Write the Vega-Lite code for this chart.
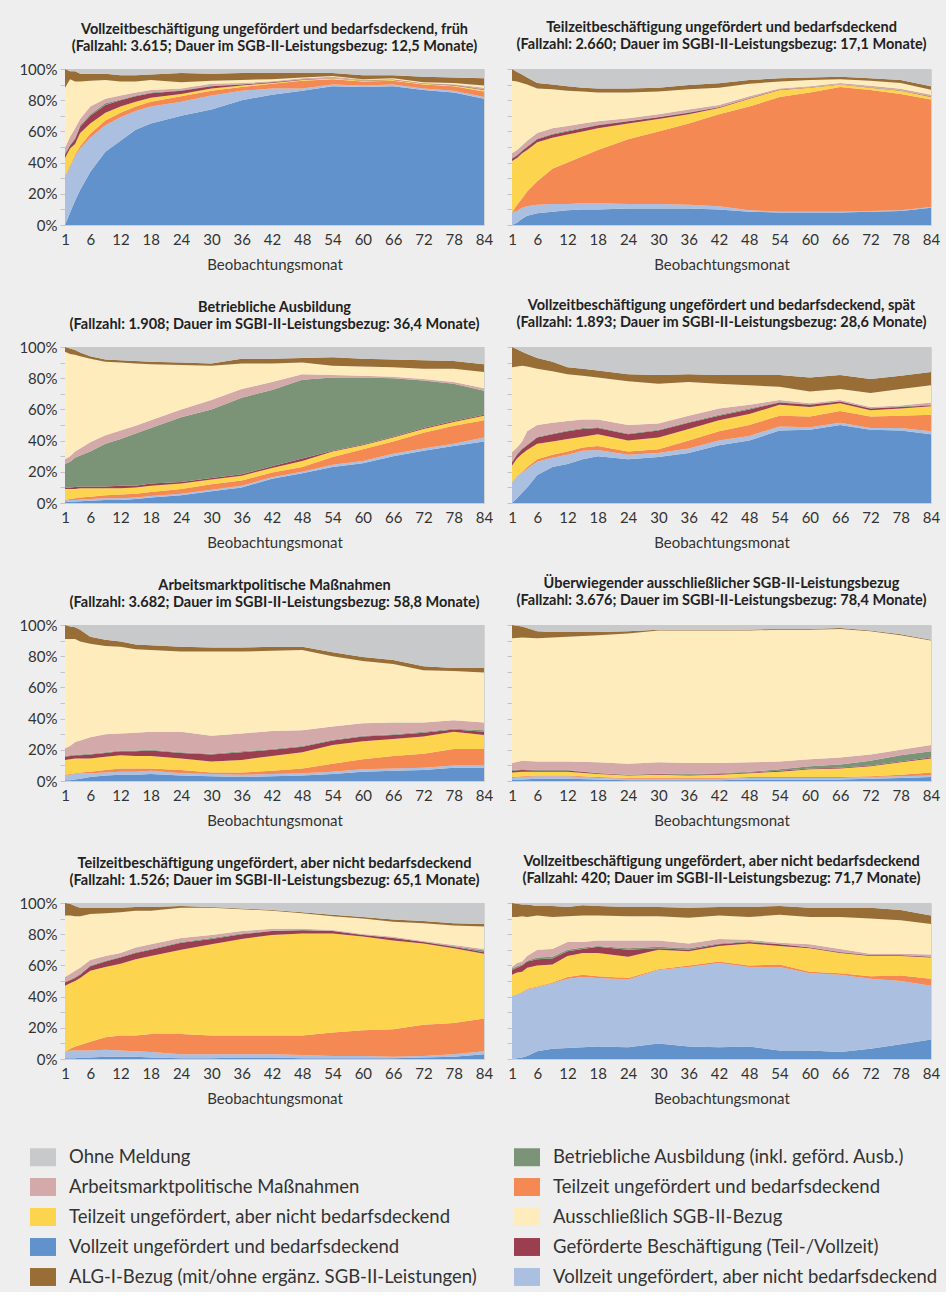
{
"$schema": "https://vega.github.io/schema/vega-lite/v6.json",
"background": "#eeeeee",
"padding": {"left": 18, "top": 19, "right": 5, "bottom": 5},
"datasets": {
"cats": [
{"key": "vb", "ord": 0, "label": "Vollzeit ungefördert und bedarfsdeckend"},
{"key": "vn", "ord": 1, "label": "Vollzeit ungefördert, aber nicht bedarfsdeckend"},
{"key": "tb", "ord": 2, "label": "Teilzeit ungefördert und bedarfsdeckend"},
{"key": "tn", "ord": 3, "label": "Teilzeit ungefördert, aber nicht bedarfsdeckend"},
{"key": "gb", "ord": 4, "label": "Geförderte Beschäftigung (Teil-/Vollzeit)"},
{"key": "ba", "ord": 5, "label": "Betriebliche Ausbildung (inkl. geförd. Ausb.)"},
{"key": "am", "ord": 6, "label": "Arbeitsmarktpolitische Maßnahmen"},
{"key": "sg", "ord": 7, "label": "Ausschließlich SGB-II-Bezug"},
{"key": "alg", "ord": 8, "label": "ALG-I-Bezug (mit/ohne ergänz. SGB-II-Leistungen)"},
{"key": "om", "ord": 9, "label": "Ohne Meldung"}
],
"d": [
{"p":1,"m":1,"vb":0,"vn":31,"tb":0.5,"tn":11.5,"gb":2,"ba":1,"am":3.5,"sg":38.5,"alg":12,"om":0},
{"p":1,"m":2,"vb":8,"vn":29,"tb":1,"tn":11,"gb":2,"ba":0.5,"am":5,"sg":37,"alg":5,"om":1.5},
{"p":1,"m":3,"vb":15.5,"vn":28.5,"tb":1,"tn":7,"gb":3,"ba":1,"am":6,"sg":30,"alg":6.5,"om":1.5},
{"p":1,"m":4,"vb":22.5,"vn":26.5,"tb":1.5,"tn":8.5,"gb":4,"ba":1,"am":4,"sg":24,"alg":5,"om":3},
{"p":1,"m":6,"vb":34,"vn":22,"tb":2.5,"tn":6.5,"gb":5,"ba":1,"am":5,"sg":16.5,"alg":4.5,"om":3},
{"p":1,"m":9,"vb":47,"vn":17,"tb":3,"tn":5,"gb":5,"ba":1,"am":3,"sg":12,"alg":4,"om":3},
{"p":1,"m":12,"vb":54,"vn":15,"tb":3,"tn":4,"gb":4,"ba":0.5,"am":2.5,"sg":9,"alg":4,"om":4},
{"p":1,"m":15,"vb":61,"vn":12,"tb":3,"tn":3,"gb":3.5,"ba":0.5,"am":2,"sg":7,"alg":4,"om":4},
{"p":1,"m":18,"vb":65,"vn":11,"tb":3,"tn":2.5,"gb":3,"ba":0.5,"am":1.5,"sg":6.5,"alg":3.5,"om":3.5},
{"p":1,"m":24,"vb":70,"vn":9,"tb":3.5,"tn":1.5,"gb":2,"ba":0.3,"am":1.2,"sg":4,"alg":6,"om":2.5},
{"p":1,"m":30,"vb":74,"vn":9,"tb":3,"tn":1.5,"gb":1.5,"ba":0.2,"am":1.3,"sg":2,"alg":4.5,"om":3},
{"p":1,"m":36,"vb":80,"vn":6,"tb":2.5,"tn":1,"gb":0.5,"ba":0.2,"am":0.8,"sg":2,"alg":4.5,"om":2.5},
{"p":1,"m":42,"vb":83.5,"vn":4,"tb":3,"tn":0.5,"gb":0.5,"ba":0.2,"am":0.5,"sg":1.3,"alg":4,"om":2.5},
{"p":1,"m":48,"vb":86,"vn":1.5,"tb":5,"tn":0.5,"gb":0.3,"ba":0.1,"am":0.6,"sg":0.5,"alg":3,"om":2.5},
{"p":1,"m":54,"vb":89,"vn":1,"tb":3.5,"tn":0.5,"gb":0.2,"ba":0.1,"am":0.7,"sg":0.5,"alg":2,"om":2.5},
{"p":1,"m":60,"vb":88.5,"vn":1,"tb":2.5,"tn":0.5,"gb":0.2,"ba":0.1,"am":0.4,"sg":0.3,"alg":2.5,"om":4},
{"p":1,"m":66,"vb":89,"vn":1,"tb":2.5,"tn":0.5,"gb":0.2,"ba":0.1,"am":0.2,"sg":0.5,"alg":2,"om":4},
{"p":1,"m":72,"vb":86.5,"vn":1,"tb":2.5,"tn":0.5,"gb":0.2,"ba":0.1,"am":0.2,"sg":0.5,"alg":3.5,"om":5},
{"p":1,"m":78,"vb":85,"vn":1,"tb":3,"tn":0.5,"gb":0.3,"ba":0.1,"am":0.4,"sg":0.7,"alg":3.5,"om":5.5},
{"p":1,"m":84,"vb":81,"vn":1,"tb":3.5,"tn":1,"gb":0.3,"ba":0.2,"am":1,"sg":1.5,"alg":4.5,"om":6},
{"p":2,"m":1,"vb":0,"vn":8,"tb":0,"tn":33,"gb":1.5,"ba":0.5,"am":3,"sg":46.5,"alg":7.5,"om":0},
{"p":2,"m":2,"vb":1.5,"vn":7.5,"tb":4,"tn":30,"gb":1.5,"ba":0.5,"am":3,"sg":44,"alg":6,"om":2},
{"p":2,"m":3,"vb":4,"vn":7,"tb":6,"tn":29,"gb":1.5,"ba":0.5,"am":3,"sg":40,"alg":5.5,"om":3.5},
{"p":2,"m":4,"vb":6,"vn":6,"tb":9.5,"tn":26.5,"gb":2,"ba":0.5,"am":3.5,"sg":36,"alg":4.5,"om":5.5},
{"p":2,"m":6,"vb":7.5,"vn":5.5,"tb":15,"tn":25,"gb":2,"ba":0.5,"am":3.5,"sg":28.5,"alg":3.5,"om":9},
{"p":2,"m":9,"vb":8.5,"vn":5,"tb":22.5,"tn":20,"gb":2,"ba":0.5,"am":3.5,"sg":25,"alg":3,"om":10},
{"p":2,"m":12,"vb":9.5,"vn":4,"tb":26.5,"tn":18,"gb":2,"ba":0.5,"am":3,"sg":22.5,"alg":3,"om":11},
{"p":2,"m":15,"vb":10,"vn":4,"tb":30,"tn":16,"gb":2,"ba":0.3,"am":2.7,"sg":20.5,"alg":2.5,"om":12},
{"p":2,"m":18,"vb":10,"vn":4,"tb":34,"tn":14,"gb":2,"ba":0.3,"am":2.2,"sg":18.5,"alg":2.5,"om":12.5},
{"p":2,"m":24,"vb":10.5,"vn":3,"tb":41.5,"tn":10,"gb":1.5,"ba":0.2,"am":1.8,"sg":16.5,"alg":2.5,"om":12.5},
{"p":2,"m":30,"vb":10.5,"vn":3,"tb":46.5,"tn":8,"gb":1,"ba":0.2,"am":1.8,"sg":14.5,"alg":2.5,"om":12},
{"p":2,"m":36,"vb":10.5,"vn":2.5,"tb":52,"tn":6,"gb":1,"ba":0.2,"am":1.8,"sg":13,"alg":2.7,"om":10.3},
{"p":2,"m":42,"vb":10,"vn":2,"tb":59,"tn":4,"gb":0.5,"ba":0.2,"am":1.3,"sg":11,"alg":2.8,"om":9.2},
{"p":2,"m":48,"vb":8.5,"vn":1,"tb":66.5,"tn":5,"gb":0.3,"ba":0.1,"am":1.1,"sg":8,"alg":2.5,"om":7},
{"p":2,"m":54,"vb":8,"vn":0.5,"tb":73.5,"tn":4.5,"gb":0.3,"ba":0.1,"am":0.6,"sg":4.5,"alg":2,"om":6},
{"p":2,"m":60,"vb":8,"vn":0.5,"tb":76.5,"tn":3,"gb":0.2,"ba":0.1,"am":0.7,"sg":4,"alg":1.5,"om":5.5},
{"p":2,"m":66,"vb":8,"vn":0.5,"tb":80,"tn":1.5,"gb":0.2,"ba":0.1,"am":0.7,"sg":2.5,"alg":1.5,"om":5},
{"p":2,"m":72,"vb":8.5,"vn":0.5,"tb":77.5,"tn":1.5,"gb":0.2,"ba":0.1,"am":1,"sg":3.2,"alg":1.5,"om":6},
{"p":2,"m":78,"vb":9,"vn":0.5,"tb":74.5,"tn":2,"gb":0.2,"ba":0.1,"am":1,"sg":3.7,"alg":2,"om":7},
{"p":2,"m":84,"vb":11,"vn":0.5,"tb":69,"tn":1.5,"gb":0.3,"ba":0.2,"am":1,"sg":3.2,"alg":2.3,"om":11},
{"p":3,"m":1,"vb":1,"vn":0.5,"tb":0.5,"tn":7,"gb":1,"ba":15,"am":3,"sg":69,"alg":3,"om":0},
{"p":3,"m":2,"vb":1,"vn":1,"tb":0.5,"tn":6.5,"gb":1,"ba":16.5,"am":3.5,"sg":65.5,"alg":3.5,"om":1},
{"p":3,"m":3,"vb":1,"vn":1,"tb":1,"tn":6,"gb":1.2,"ba":18.8,"am":4,"sg":62,"alg":3,"om":2},
{"p":3,"m":4,"vb":1.2,"vn":1,"tb":1.3,"tn":6,"gb":1,"ba":20,"am":4.5,"sg":59,"alg":2.5,"om":3.5},
{"p":3,"m":6,"vb":1.5,"vn":1,"tb":1.5,"tn":5.5,"gb":1,"ba":22.5,"am":6,"sg":53.5,"alg":1.5,"om":6},
{"p":3,"m":9,"vb":2,"vn":1,"tb":2,"tn":4.5,"gb":1,"ba":27.5,"am":5.5,"sg":47,"alg":1.5,"om":8},
{"p":3,"m":12,"vb":2,"vn":1,"tb":2.5,"tn":4,"gb":1.5,"ba":30,"am":5.5,"sg":43.5,"alg":1.5,"om":8.5},
{"p":3,"m":15,"vb":2.5,"vn":1,"tb":2.5,"tn":4,"gb":1,"ba":33.5,"am":5,"sg":40,"alg":1.5,"om":9},
{"p":3,"m":18,"vb":3.5,"vn":1,"tb":2.5,"tn":4,"gb":1.5,"ba":35.5,"am":5,"sg":36,"alg":1.5,"om":9.5},
{"p":3,"m":24,"vb":5,"vn":1,"tb":3,"tn":3.5,"gb":1,"ba":41.5,"am":5,"sg":28.5,"alg":1.5,"om":10},
{"p":3,"m":30,"vb":7.5,"vn":1,"tb":3.5,"tn":3,"gb":1,"ba":44,"am":6,"sg":22,"alg":1.5,"om":10.5},
{"p":3,"m":36,"vb":10,"vn":1,"tb":3.5,"tn":3,"gb":1,"ba":49,"am":5.5,"sg":16.5,"alg":3,"om":7.5},
{"p":3,"m":42,"vb":15.5,"vn":1,"tb":3,"tn":3,"gb":1,"ba":49,"am":5,"sg":12,"alg":3,"om":7.5},
{"p":3,"m":48,"vb":19,"vn":1,"tb":3,"tn":4,"gb":1.5,"ba":50.5,"am":3.5,"sg":7.5,"alg":3,"om":7},
{"p":3,"m":54,"vb":23,"vn":1.5,"tb":5,"tn":3.5,"gb":0.5,"ba":47,"am":1.5,"sg":6,"alg":5.5,"om":6.5},
{"p":3,"m":60,"vb":25.5,"vn":1.5,"tb":7.5,"tn":2.5,"gb":0.5,"ba":43,"am":1,"sg":6,"alg":5,"om":7.5},
{"p":3,"m":66,"vb":30,"vn":1.5,"tb":8,"tn":2.5,"gb":0.5,"ba":37.5,"am":1,"sg":6,"alg":5,"om":8},
{"p":3,"m":72,"vb":33.5,"vn":1.5,"tb":10,"tn":2.5,"gb":0.5,"ba":30.5,"am":1,"sg":6.5,"alg":5.5,"om":8.5},
{"p":3,"m":78,"vb":36.5,"vn":1.5,"tb":11.5,"tn":2.5,"gb":0.5,"ba":24,"am":1,"sg":8.5,"alg":5,"om":9},
{"p":3,"m":84,"vb":39.5,"vn":2.5,"tb":11,"tn":3,"gb":0.5,"ba":15.5,"am":1.5,"sg":10.5,"alg":5,"om":11},
{"p":4,"m":1,"vb":0,"vn":13.5,"tb":0,"tn":10.5,"gb":2,"ba":0.5,"am":6,"sg":54.5,"alg":13,"om":0},
{"p":4,"m":2,"vb":3,"vn":14.5,"tb":0,"tn":11,"gb":2.5,"ba":0.5,"am":4,"sg":52,"alg":11,"om":1.5},
{"p":4,"m":3,"vb":6.5,"vn":13,"tb":0.5,"tn":11.5,"gb":3,"ba":0.5,"am":4.5,"sg":48.5,"alg":9,"om":3},
{"p":4,"m":4,"vb":10,"vn":12,"tb":1,"tn":11,"gb":3,"ba":0.5,"am":8.5,"sg":41.5,"alg":8,"om":4.5},
{"p":4,"m":6,"vb":18,"vn":8.5,"tb":1.5,"tn":10,"gb":4,"ba":0.5,"am":7.5,"sg":36,"alg":7,"om":7},
{"p":4,"m":9,"vb":23,"vn":6,"tb":2,"tn":8.5,"gb":4.5,"ba":0.5,"am":7,"sg":33,"alg":6,"om":9.5},
{"p":4,"m":12,"vb":25,"vn":6,"tb":2,"tn":8,"gb":5,"ba":0.5,"am":6,"sg":30,"alg":4.5,"om":13},
{"p":4,"m":15,"vb":28,"vn":5.5,"tb":2,"tn":7,"gb":5,"ba":0.5,"am":5.5,"sg":28,"alg":4.5,"om":14},
{"p":4,"m":18,"vb":30,"vn":4,"tb":2.5,"tn":7.5,"gb":4,"ba":0.5,"am":5,"sg":27,"alg":4.5,"om":15},
{"p":4,"m":24,"vb":28,"vn":3,"tb":2,"tn":7,"gb":4,"ba":0.5,"am":5.5,"sg":28,"alg":4.5,"om":17.5},
{"p":4,"m":30,"vb":29.5,"vn":2.5,"tb":2.5,"tn":7.5,"gb":4.5,"ba":0.5,"am":4,"sg":25.5,"alg":5.5,"om":18},
{"p":4,"m":36,"vb":32,"vn":3,"tb":5,"tn":7.5,"gb":4,"ba":0.5,"am":4,"sg":21.5,"alg":5,"om":17.5},
{"p":4,"m":42,"vb":37,"vn":3,"tb":6,"tn":7,"gb":3,"ba":0.5,"am":4,"sg":16,"alg":5.5,"om":18},
{"p":4,"m":48,"vb":40,"vn":3,"tb":7,"tn":7,"gb":3,"ba":0.5,"am":2.5,"sg":12.5,"alg":6.5,"om":18},
{"p":4,"m":54,"vb":46.5,"vn":2.5,"tb":7,"tn":7,"gb":1.5,"ba":0.3,"am":1.2,"sg":8.5,"alg":7.5,"om":18},
{"p":4,"m":60,"vb":47,"vn":1.5,"tb":7,"tn":6,"gb":1.5,"ba":0.3,"am":0.7,"sg":7.5,"alg":9,"om":19.5},
{"p":4,"m":66,"vb":50,"vn":1.5,"tb":7.5,"tn":5,"gb":1,"ba":0.3,"am":0.7,"sg":7,"alg":9,"om":18},
{"p":4,"m":72,"vb":47,"vn":1,"tb":7.5,"tn":4,"gb":1,"ba":0.3,"am":0.7,"sg":9,"alg":9,"om":20.5},
{"p":4,"m":78,"vb":46.5,"vn":1.5,"tb":8,"tn":4.5,"gb":1,"ba":0.3,"am":0.7,"sg":10.5,"alg":8.5,"om":18.5},
{"p":4,"m":84,"vb":44,"vn":2,"tb":10.5,"tn":5.5,"gb":0.5,"ba":0.5,"am":1.5,"sg":11,"alg":8.5,"om":16},
{"p":5,"m":1,"vb":0.5,"vn":3,"tb":0.5,"tn":9.5,"gb":2,"ba":0.5,"am":5,"sg":70,"alg":9,"om":0},
{"p":5,"m":2,"vb":0.5,"vn":3.5,"tb":0.5,"tn":9.5,"gb":2,"ba":0.5,"am":6,"sg":68.5,"alg":8,"om":1},
{"p":5,"m":3,"vb":1,"vn":3.5,"tb":0.5,"tn":9.5,"gb":2,"ba":0.5,"am":8,"sg":66,"alg":7.5,"om":1.5},
{"p":5,"m":4,"vb":1.5,"vn":3.5,"tb":0.5,"tn":9,"gb":2,"ba":0.5,"am":9,"sg":63.5,"alg":7.5,"om":3},
{"p":5,"m":6,"vb":2.5,"vn":2.5,"tb":1,"tn":8.5,"gb":2.5,"ba":0.5,"am":10.5,"sg":60,"alg":4.5,"om":7.5},
{"p":5,"m":9,"vb":3.5,"vn":2,"tb":1.5,"tn":8.5,"gb":2.5,"ba":0.5,"am":11.5,"sg":56.5,"alg":4,"om":9.5},
{"p":5,"m":12,"vb":4,"vn":2,"tb":2,"tn":8.5,"gb":2.5,"ba":0.5,"am":11,"sg":55.5,"alg":3.5,"om":10.5},
{"p":5,"m":15,"vb":4,"vn":2,"tb":2,"tn":8,"gb":3,"ba":0.5,"am":11.5,"sg":53.5,"alg":3,"om":12.5},
{"p":5,"m":18,"vb":4.5,"vn":2,"tb":1.5,"tn":8,"gb":3.5,"ba":0.5,"am":11.5,"sg":52.5,"alg":3,"om":13},
{"p":5,"m":24,"vb":3.5,"vn":1.5,"tb":2,"tn":7.5,"gb":3.5,"ba":0.5,"am":13,"sg":51.5,"alg":3,"om":14},
{"p":5,"m":30,"vb":3,"vn":1.5,"tb":1,"tn":7,"gb":4.5,"ba":0.5,"am":11.5,"sg":54,"alg":2.5,"om":14.5},
{"p":5,"m":36,"vb":2.5,"vn":1.5,"tb":1.5,"tn":8,"gb":5,"ba":0.5,"am":11.5,"sg":52.5,"alg":2.5,"om":14.5},
{"p":5,"m":42,"vb":3,"vn":1.5,"tb":2,"tn":9.5,"gb":4,"ba":0.5,"am":11.5,"sg":51.5,"alg":2.5,"om":14},
{"p":5,"m":48,"vb":3.5,"vn":1.5,"tb":3,"tn":10.5,"gb":3.5,"ba":0.5,"am":10,"sg":51.5,"alg":2,"om":14},
{"p":5,"m":54,"vb":4.5,"vn":1.5,"tb":5,"tn":12,"gb":3,"ba":0.5,"am":8.5,"sg":45,"alg":2.5,"om":17.5},
{"p":5,"m":60,"vb":6,"vn":1.5,"tb":6.5,"tn":11.5,"gb":3,"ba":0.5,"am":8,"sg":40,"alg":2.5,"om":20.5},
{"p":5,"m":66,"vb":6.5,"vn":1.5,"tb":8,"tn":11,"gb":2.5,"ba":0.5,"am":7.5,"sg":37.5,"alg":2.5,"om":22.5},
{"p":5,"m":72,"vb":7,"vn":1.5,"tb":9,"tn":11,"gb":2.5,"ba":0.5,"am":6,"sg":33.5,"alg":2.5,"om":26.5},
{"p":5,"m":78,"vb":8.5,"vn":1.5,"tb":10.5,"tn":11,"gb":1.5,"ba":0.5,"am":5.5,"sg":31.5,"alg":2,"om":27.5},
{"p":5,"m":84,"vb":8.5,"vn":1.5,"tb":10.5,"tn":9,"gb":2,"ba":1,"am":5,"sg":32,"alg":3,"om":27.5},
{"p":6,"m":1,"vb":1,"vn":1,"tb":0.5,"tn":3,"gb":1,"ba":0.5,"am":4.5,"sg":80,"alg":8.5,"om":0},
{"p":6,"m":3,"vb":1,"vn":1.5,"tb":0.5,"tn":3,"gb":1,"ba":0.5,"am":5.5,"sg":79,"alg":7,"om":1},
{"p":6,"m":6,"vb":1.5,"vn":1.5,"tb":0.5,"tn":2.5,"gb":0.8,"ba":0.2,"am":5.5,"sg":79,"alg":4.5,"om":4},
{"p":6,"m":9,"vb":1.5,"vn":1.5,"tb":0.5,"tn":2.5,"gb":0.8,"ba":0.2,"am":5.5,"sg":79.5,"alg":3.5,"om":4.5},
{"p":6,"m":12,"vb":1.5,"vn":1.5,"tb":0.5,"tn":2.5,"gb":0.8,"ba":0.2,"am":5.5,"sg":80,"alg":3,"om":4.5},
{"p":6,"m":18,"vb":1,"vn":1,"tb":0.5,"tn":2,"gb":0.5,"ba":0.2,"am":6.8,"sg":81.5,"alg":2,"om":4.5},
{"p":6,"m":24,"vb":0.5,"vn":1,"tb":0.5,"tn":1.5,"gb":0.3,"ba":0.2,"am":7,"sg":83.5,"alg":1.5,"om":4},
{"p":6,"m":30,"vb":0.5,"vn":1,"tb":0.5,"tn":2,"gb":0.5,"ba":0.2,"am":7.3,"sg":84.5,"alg":0.5,"om":3},
{"p":6,"m":36,"vb":0.5,"vn":1,"tb":0.5,"tn":1.5,"gb":0.5,"ba":0.5,"am":7,"sg":85,"alg":0.5,"om":3},
{"p":6,"m":42,"vb":0.5,"vn":1,"tb":0.5,"tn":2,"gb":0.5,"ba":0.5,"am":6.5,"sg":85,"alg":0.5,"om":3},
{"p":6,"m":48,"vb":1,"vn":1,"tb":0.5,"tn":2.5,"gb":0.5,"ba":0.5,"am":6,"sg":84.5,"alg":0.5,"om":3},
{"p":6,"m":54,"vb":1,"vn":1,"tb":0.5,"tn":3.5,"gb":0.5,"ba":1,"am":5,"sg":84.5,"alg":0.5,"om":2.5},
{"p":6,"m":60,"vb":1,"vn":1,"tb":0.5,"tn":5,"gb":0.5,"ba":1.5,"am":4.5,"sg":83,"alg":0.5,"om":2.5},
{"p":6,"m":66,"vb":1,"vn":1,"tb":0.5,"tn":5.5,"gb":0.5,"ba":2,"am":4.5,"sg":82.5,"alg":0.5,"om":2},
{"p":6,"m":72,"vb":1.5,"vn":1,"tb":0.5,"tn":6.5,"gb":0.5,"ba":3,"am":4,"sg":79,"alg":0.5,"om":3.5},
{"p":6,"m":78,"vb":2,"vn":1,"tb":1,"tn":8,"gb":0.5,"ba":4,"am":3.5,"sg":73.5,"alg":0.5,"om":6},
{"p":6,"m":84,"vb":2.5,"vn":1,"tb":2,"tn":9,"gb":0.5,"ba":4,"am":4,"sg":67,"alg":0.5,"om":9.5},
{"p":7,"m":1,"vb":0.5,"vn":4,"tb":0,"tn":42.5,"gb":2,"ba":0.5,"am":3,"sg":39.5,"alg":8,"om":0},
{"p":7,"m":2,"vb":0.5,"vn":5,"tb":1,"tn":42,"gb":2,"ba":0.5,"am":3.5,"sg":37.5,"alg":7.5,"om":0.5},
{"p":7,"m":3,"vb":0.5,"vn":5,"tb":2.5,"tn":42,"gb":2,"ba":0.5,"am":4,"sg":35,"alg":6.5,"om":2},
{"p":7,"m":4,"vb":1,"vn":4.5,"tb":3.5,"tn":43,"gb":2,"ba":0.5,"am":4,"sg":33,"alg":5.5,"om":3},
{"p":7,"m":6,"vb":1,"vn":4.5,"tb":5.5,"tn":45.5,"gb":3,"ba":0.5,"am":3.5,"sg":29.5,"alg":4,"om":3},
{"p":7,"m":9,"vb":1.5,"vn":4.5,"tb":8,"tn":45,"gb":3.5,"ba":0.5,"am":3,"sg":27.5,"alg":3.5,"om":3},
{"p":7,"m":12,"vb":1.5,"vn":4,"tb":9.5,"tn":46,"gb":4,"ba":0.5,"am":2.5,"sg":26,"alg":3,"om":3},
{"p":7,"m":15,"vb":1.5,"vn":3.5,"tb":10,"tn":49,"gb":4,"ba":0.5,"am":3,"sg":23.5,"alg":2.5,"om":2.5},
{"p":7,"m":18,"vb":1,"vn":3.5,"tb":11.5,"tn":50,"gb":4,"ba":0.5,"am":3,"sg":21.5,"alg":2.5,"om":2.5},
{"p":7,"m":24,"vb":0.5,"vn":2.5,"tb":13,"tn":54,"gb":4.5,"ba":0.5,"am":2.5,"sg":19.5,"alg":1,"om":2},
{"p":7,"m":30,"vb":0.5,"vn":2.5,"tb":12,"tn":58.5,"gb":3.5,"ba":0.5,"am":2,"sg":17.5,"alg":0.5,"om":2.5},
{"p":7,"m":36,"vb":1,"vn":2,"tb":12,"tn":62,"gb":3,"ba":0.5,"am":1.5,"sg":14,"alg":0.5,"om":3.5},
{"p":7,"m":42,"vb":1,"vn":2,"tb":12,"tn":64.5,"gb":2.5,"ba":0.2,"am":1.3,"sg":11.5,"alg":0.5,"om":4.5},
{"p":7,"m":48,"vb":0.5,"vn":2,"tb":12.5,"tn":65.5,"gb":2,"ba":0.2,"am":0.8,"sg":10,"alg":0.5,"om":6},
{"p":7,"m":54,"vb":0.5,"vn":1.5,"tb":15,"tn":63.5,"gb":1.5,"ba":0.2,"am":0.5,"sg":8.8,"alg":1,"om":7.5},
{"p":7,"m":60,"vb":0.5,"vn":1.5,"tb":16.5,"tn":60,"gb":1,"ba":0.2,"am":0.5,"sg":9.8,"alg":1,"om":9},
{"p":7,"m":66,"vb":0.5,"vn":1,"tb":17.5,"tn":57,"gb":1.5,"ba":0.2,"am":0.6,"sg":9.7,"alg":1.5,"om":10.5},
{"p":7,"m":72,"vb":1,"vn":1,"tb":20,"tn":52,"gb":1,"ba":0.2,"am":0.5,"sg":11.3,"alg":1.5,"om":11.5},
{"p":7,"m":78,"vb":1.5,"vn":1.5,"tb":20,"tn":48,"gb":1,"ba":0.3,"am":0.7,"sg":12.5,"alg":1.5,"om":13},
{"p":7,"m":84,"vb":3,"vn":2,"tb":21,"tn":41.5,"gb":1,"ba":1,"am":1,"sg":14.5,"alg":1.5,"om":13.5},
{"p":8,"m":1,"vb":0,"vn":40.5,"tb":0,"tn":13.5,"gb":3,"ba":1,"am":1,"sg":32,"alg":9,"om":0},
{"p":8,"m":2,"vb":0.5,"vn":41,"tb":0,"tn":14,"gb":3,"ba":1,"am":2,"sg":29.5,"alg":8.5,"om":0.5},
{"p":8,"m":3,"vb":1,"vn":41.5,"tb":0.5,"tn":13,"gb":4,"ba":0.5,"am":2,"sg":29,"alg":7.5,"om":1},
{"p":8,"m":4,"vb":2,"vn":42.5,"tb":0.5,"tn":13.5,"gb":4,"ba":0.5,"am":3,"sg":25,"alg":8,"om":1},
{"p":8,"m":6,"vb":5,"vn":41,"tb":0.5,"tn":13.5,"gb":4,"ba":1,"am":5,"sg":22,"alg":6,"om":2},
{"p":8,"m":9,"vb":6.5,"vn":42,"tb":0.5,"tn":11.5,"gb":4,"ba":1,"am":5,"sg":20.5,"alg":7,"om":2},
{"p":8,"m":12,"vb":7,"vn":44.5,"tb":1,"tn":13.5,"gb":3,"ba":1,"am":5,"sg":16.5,"alg":6,"om":2.5},
{"p":8,"m":15,"vb":7.5,"vn":45,"tb":1.5,"tn":14,"gb":2.5,"ba":1,"am":3.5,"sg":17,"alg":6.5,"om":1.5},
{"p":8,"m":18,"vb":8,"vn":44,"tb":1,"tn":15,"gb":4,"ba":0.5,"am":3.5,"sg":16,"alg":6,"om":2},
{"p":8,"m":24,"vb":7.5,"vn":43.5,"tb":1,"tn":13.5,"gb":4.5,"ba":1,"am":5,"sg":15.5,"alg":6,"om":2.5},
{"p":8,"m":30,"vb":10,"vn":47,"tb":0.5,"tn":12.5,"gb":1,"ba":1,"am":4,"sg":15.5,"alg":6,"om":2.5},
{"p":8,"m":36,"vb":8,"vn":51,"tb":1,"tn":9,"gb":1,"ba":1,"am":3,"sg":16.5,"alg":6.5,"om":3},
{"p":8,"m":42,"vb":7.5,"vn":54,"tb":1,"tn":10,"gb":1,"ba":0.5,"am":3,"sg":15,"alg":5.5,"om":2.5},
{"p":8,"m":48,"vb":8,"vn":51,"tb":1,"tn":14,"gb":1,"ba":0.5,"am":1,"sg":14.5,"alg":6.5,"om":2.5},
{"p":8,"m":54,"vb":5.5,"vn":53.5,"tb":1.5,"tn":12,"gb":1,"ba":0.2,"am":0.8,"sg":18,"alg":5.5,"om":2},
{"p":8,"m":60,"vb":5.5,"vn":49.5,"tb":1,"tn":15,"gb":0.5,"ba":0.2,"am":1.8,"sg":17.5,"alg":6,"om":3},
{"p":8,"m":66,"vb":4.5,"vn":49.5,"tb":1,"tn":13,"gb":0.5,"ba":0.2,"am":1.8,"sg":20.5,"alg":6,"om":3},
{"p":8,"m":72,"vb":6.5,"vn":45,"tb":1.5,"tn":13,"gb":0.5,"ba":0.2,"am":0.8,"sg":22.5,"alg":7,"om":3},
{"p":8,"m":78,"vb":9.5,"vn":40.5,"tb":3.5,"tn":12.5,"gb":0.5,"ba":0.2,"am":0.8,"sg":21.5,"alg":6.5,"om":4.5},
{"p":8,"m":84,"vb":12.5,"vn":34.5,"tb":4.5,"tn":13.5,"gb":0.5,"ba":0.2,"am":1.3,"sg":19.5,"alg":5.5,"om":8}
]
},
"data": {"name": "d"},
"transform": [
{"fold": ["vb","vn","tb","tn","gb","ba","am","sg","alg","om"], "as": ["key","value"]},
{"lookup": "key", "from": {"data": {"name": "cats"}, "key": "key", "fields": ["label","ord"]}}
],
"columns": 2,
"spacing": {"row": 24, "column": 12},
"concat": [
{"transform": [{"filter": "datum.p == 1"}],
 "title": {"text": ["Vollzeitbeschäftigung ungefördert und bedarfsdeckend, früh", "(Fallzahl: 3.615; Dauer im SGB-II-Leistungsbezug: 12,5 Monate)"], "offset": 8},
 "width": 419, "height": 156,
 "mark": {"type": "area"},
 "encoding": {
  "x": {"field": "m", "type": "quantitative", "scale": {"domain": [1,84], "nice": false, "zero": false}, "axis": {"values": [1,6,12,18,24,30,36,42,48,54,60,66,72,78,84], "title": "Beobachtungsmonat"}},
  "y": {"field": "value", "type": "quantitative", "stack": "normalize", "scale": {"domain": [0,1]}, "axis": {"values": [0,0.1,0.2,0.3,0.4,0.5,0.6,0.7,0.8,0.9,1], "labelExpr": "round(datum.value*10) % 2 == 0 ? format(datum.value, '.0%') : ''", "title": null}},
  "color": {"field": "label", "type": "nominal",
   "scale": {"domain": ["Ohne Meldung","Arbeitsmarktpolitische Maßnahmen","Teilzeit ungefördert, aber nicht bedarfsdeckend","Vollzeit ungefördert und bedarfsdeckend","ALG-I-Bezug (mit/ohne ergänz. SGB-II-Leistungen)","Betriebliche Ausbildung (inkl. geförd. Ausb.)","Teilzeit ungefördert und bedarfsdeckend","Ausschließlich SGB-II-Bezug","Geförderte Beschäftigung (Teil-/Vollzeit)","Vollzeit ungefördert, aber nicht bedarfsdeckend"],
    "range": ["#c8c9cb","#d3a9a9","#fdd44d","#6192cb","#996e36","#7b9477","#f58953","#feecbd","#9b3e50","#abbfe1"]},
   "legend": {"title": null, "orient": "none", "legendX": -35, "legendY": 1075, "columns": 2, "columnPadding": 37, "rowPadding": 7, "symbolType": "M-1,-0.69H1V0.69H-1Z", "symbolSize": 676, "symbolStrokeWidth": 0, "symbolOpacity": 1, "labelFontSize": 18.5, "labelOffset": 13, "labelLimit": 600, "labelColor": "#333333", "labelFont": "Lato"}},
  "order": {"field": "ord", "type": "quantitative"}
 }},
{"transform": [{"filter": "datum.p == 2"}],
 "title": {"text": ["Teilzeitbeschäftigung ungefördert und bedarfsdeckend", "(Fallzahl: 2.660; Dauer im SGBI-II-Leistungsbezug: 17,1 Monate)"], "offset": 16},
 "width": 419, "height": 156,
 "mark": {"type": "area"},
 "encoding": {
  "x": {"field": "m", "type": "quantitative", "scale": {"domain": [1,84], "nice": false, "zero": false}, "axis": {"values": [1,6,12,18,24,30,36,42,48,54,60,66,72,78,84], "title": "Beobachtungsmonat"}},
  "y": {"field": "value", "type": "quantitative", "stack": "normalize", "scale": {"domain": [0,1]}, "axis": {"values": [0,0.1,0.2,0.3,0.4,0.5,0.6,0.7,0.8,0.9,1], "labels": false, "title": null}},
  "color": {"field": "label", "type": "nominal"},
  "order": {"field": "ord", "type": "quantitative"}
 }},
{"transform": [{"filter": "datum.p == 3"}],
 "title": {"text": ["Betriebliche Ausbildung", "(Fallzahl: 1.908; Dauer im SGBI-II-Leistungsbezug: 36,4 Monate)"], "offset": 8},
 "width": 419, "height": 156,
 "mark": {"type": "area"},
 "encoding": {
  "x": {"field": "m", "type": "quantitative", "scale": {"domain": [1,84], "nice": false, "zero": false}, "axis": {"values": [1,6,12,18,24,30,36,42,48,54,60,66,72,78,84], "title": "Beobachtungsmonat"}},
  "y": {"field": "value", "type": "quantitative", "stack": "normalize", "scale": {"domain": [0,1]}, "axis": {"values": [0,0.1,0.2,0.3,0.4,0.5,0.6,0.7,0.8,0.9,1], "labelExpr": "round(datum.value*10) % 2 == 0 ? format(datum.value, '.0%') : ''", "title": null}},
  "color": {"field": "label", "type": "nominal"},
  "order": {"field": "ord", "type": "quantitative"}
 }},
{"transform": [{"filter": "datum.p == 4"}],
 "title": {"text": ["Vollzeitbeschäftigung ungefördert und bedarfsdeckend, spät", "(Fallzahl: 1.893; Dauer im SGBI-II-Leistungsbezug: 28,6 Monate)"], "offset": 16},
 "width": 419, "height": 156,
 "mark": {"type": "area"},
 "encoding": {
  "x": {"field": "m", "type": "quantitative", "scale": {"domain": [1,84], "nice": false, "zero": false}, "axis": {"values": [1,6,12,18,24,30,36,42,48,54,60,66,72,78,84], "title": "Beobachtungsmonat"}},
  "y": {"field": "value", "type": "quantitative", "stack": "normalize", "scale": {"domain": [0,1]}, "axis": {"values": [0,0.1,0.2,0.3,0.4,0.5,0.6,0.7,0.8,0.9,1], "labels": false, "title": null}},
  "color": {"field": "label", "type": "nominal"},
  "order": {"field": "ord", "type": "quantitative"}
 }},
{"transform": [{"filter": "datum.p == 5"}],
 "title": {"text": ["Arbeitsmarktpolitische Maßnahmen", "(Fallzahl: 3.682; Dauer im SGBI-II-Leistungsbezug: 58,8 Monate)"], "offset": 8},
 "width": 419, "height": 156,
 "mark": {"type": "area"},
 "encoding": {
  "x": {"field": "m", "type": "quantitative", "scale": {"domain": [1,84], "nice": false, "zero": false}, "axis": {"values": [1,6,12,18,24,30,36,42,48,54,60,66,72,78,84], "title": "Beobachtungsmonat"}},
  "y": {"field": "value", "type": "quantitative", "stack": "normalize", "scale": {"domain": [0,1]}, "axis": {"values": [0,0.1,0.2,0.3,0.4,0.5,0.6,0.7,0.8,0.9,1], "labelExpr": "round(datum.value*10) % 2 == 0 ? format(datum.value, '.0%') : ''", "title": null}},
  "color": {"field": "label", "type": "nominal"},
  "order": {"field": "ord", "type": "quantitative"}
 }},
{"transform": [{"filter": "datum.p == 6"}],
 "title": {"text": ["Überwiegender ausschließlicher SGB-II-Leistungsbezug", "(Fallzahl: 3.676; Dauer im SGBI-II-Leistungsbezug: 78,4 Monate)"], "offset": 16},
 "width": 419, "height": 156,
 "mark": {"type": "area"},
 "encoding": {
  "x": {"field": "m", "type": "quantitative", "scale": {"domain": [1,84], "nice": false, "zero": false}, "axis": {"values": [1,6,12,18,24,30,36,42,48,54,60,66,72,78,84], "title": "Beobachtungsmonat"}},
  "y": {"field": "value", "type": "quantitative", "stack": "normalize", "scale": {"domain": [0,1]}, "axis": {"values": [0,0.1,0.2,0.3,0.4,0.5,0.6,0.7,0.8,0.9,1], "labels": false, "title": null}},
  "color": {"field": "label", "type": "nominal"},
  "order": {"field": "ord", "type": "quantitative"}
 }},
{"transform": [{"filter": "datum.p == 7"}],
 "title": {"text": ["Teilzeitbeschäftigung ungefördert, aber nicht bedarfsdeckend", "(Fallzahl: 1.526; Dauer im SGBI-II-Leistungsbezug: 65,1 Monate)"], "offset": 8},
 "width": 419, "height": 156,
 "mark": {"type": "area"},
 "encoding": {
  "x": {"field": "m", "type": "quantitative", "scale": {"domain": [1,84], "nice": false, "zero": false}, "axis": {"values": [1,6,12,18,24,30,36,42,48,54,60,66,72,78,84], "title": "Beobachtungsmonat"}},
  "y": {"field": "value", "type": "quantitative", "stack": "normalize", "scale": {"domain": [0,1]}, "axis": {"values": [0,0.1,0.2,0.3,0.4,0.5,0.6,0.7,0.8,0.9,1], "labelExpr": "round(datum.value*10) % 2 == 0 ? format(datum.value, '.0%') : ''", "title": null}},
  "color": {"field": "label", "type": "nominal"},
  "order": {"field": "ord", "type": "quantitative"}
 }},
{"transform": [{"filter": "datum.p == 8"}],
 "title": {"text": ["Vollzeitbeschäftigung ungefördert, aber nicht bedarfsdeckend", "(Fallzahl: 420; Dauer im SGBI-II-Leistungsbezug: 71,7 Monate)"], "offset": 16},
 "width": 419, "height": 156,
 "mark": {"type": "area"},
 "encoding": {
  "x": {"field": "m", "type": "quantitative", "scale": {"domain": [1,84], "nice": false, "zero": false}, "axis": {"values": [1,6,12,18,24,30,36,42,48,54,60,66,72,78,84], "title": "Beobachtungsmonat"}},
  "y": {"field": "value", "type": "quantitative", "stack": "normalize", "scale": {"domain": [0,1]}, "axis": {"values": [0,0.1,0.2,0.3,0.4,0.5,0.6,0.7,0.8,0.9,1], "labels": false, "title": null}},
  "color": {"field": "label", "type": "nominal"},
  "order": {"field": "ord", "type": "quantitative"}
 }}
],
"config": {
 "font": "Lato",
 "view": {"stroke": "#d3d3d3", "strokeWidth": 1},
 "title": {"anchor": "middle", "frame": "group", "fontSize": 14.5, "fontWeight": "bold", "color": "#222222", "lineHeight": 17, "font": "Lato"},
 "axis": {"labelFont": "Lato", "labelFontSize": 15, "labelColor": "#333333", "titleFont": "Lato", "titleFontSize": 15, "titleFontWeight": "normal", "titleColor": "#333333", "domainColor": "#cfcfcf", "tickColor": "#c4c4c4", "grid": false},
 "axisX": {"ticks": false, "labelPadding": 7, "titlePadding": 10, "labelFlush": false},
 "axisY": {"tickSize": 5, "labelPadding": 3}
}
}
